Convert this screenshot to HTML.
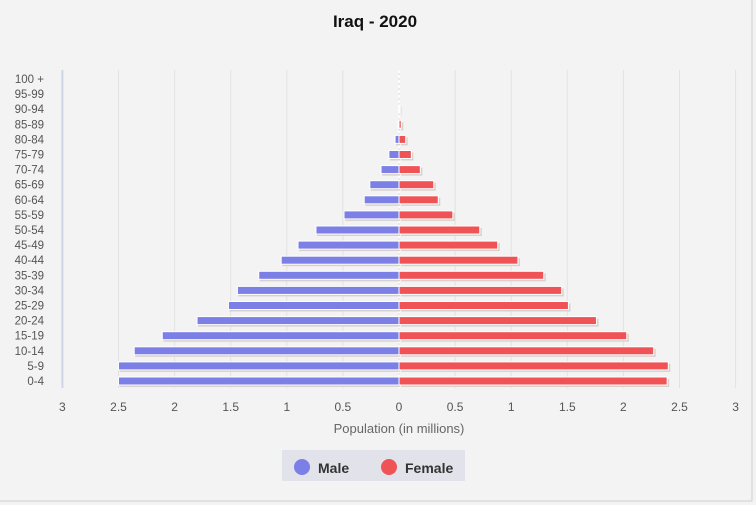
<!DOCTYPE html>
<html><head><meta charset="utf-8"><style>
html,body{margin:0;padding:0;background:#f4f4f4;}
svg{display:block;font-family:"Liberation Sans",sans-serif;}
</style></head><body>
<svg id="chart" width="756" height="505" viewBox="0 0 756 505">
<rect x="0" y="0" width="756" height="505" fill="#f3f3f3"/>
<line x1="752" y1="0" x2="752" y2="501" stroke="#cfcfcf"/>
<line x1="0" y1="501" x2="752" y2="501" stroke="#cfcfcf"/>
<text x="375" y="27" text-anchor="middle" font-size="17" font-weight="bold" fill="#111">Iraq - 2020</text>
<g id="grid"></g>
<g id="bars"></g>
<g id="ylabels"></g>
<g id="xlabels"></g>
<text x="399" y="433" text-anchor="middle" font-size="13" fill="#666">Population (in millions)</text>
<g>
<rect x="282" y="450" width="183" height="31" fill="#e2e2ea"/>
<g>
<circle cx="302" cy="467" r="8" fill="#7b7fe6"/>
<text x="318" y="473" font-size="14" font-weight="bold" fill="#333">Male</text>
</g>
<g>
<circle cx="389" cy="467" r="8" fill="#f05356"/>
<text x="405" y="473" font-size="14" font-weight="bold" fill="#333">Female</text>
</g>
</g>
</svg>
<script>
const categories = ["0-4","5-9","10-14","15-19","20-24","25-29","30-34","35-39","40-44","45-49","50-54","55-59","60-64","65-69","70-74","75-79","80-84","85-89","90-94","95-99","100 +"];
const maleValues = [2.50,2.50,2.36,2.11,1.80,1.52,1.44,1.25,1.05,0.90,0.74,0.49,0.31,0.26,0.16,0.09,0.035,0.008,0.002,0,0];
const femaleValues = [2.39,2.40,2.27,2.03,1.76,1.51,1.45,1.29,1.06,0.88,0.72,0.48,0.35,0.31,0.19,0.11,0.06,0.02,0.004,0,0];
const xTicks = [-3,-2.5,-2,-1.5,-1,-0.5,0,0.5,1,1.5,2,2.5,3];
const xTickLabels = ["3","2.5","2","1.5","1","0.5","0","0.5","1","1.5","2","2.5","3"];

const NS="http://www.w3.org/2000/svg";
const cx=399, unit=112.2;
function xScale(v){return cx+v*unit;}
function yScale(i){return 381-i*15.1;}
function mk(tag,attrs,parent){const e=document.createElementNS(NS,tag);for(const k in attrs)e.setAttribute(k,attrs[k]);parent.appendChild(e);return e;}
const grid=document.getElementById('grid'),bars=document.getElementById('bars'),yl=document.getElementById('ylabels'),xl=document.getElementById('xlabels');
xTicks.forEach((t,i)=>{
  const g=mk('line',{x1:xScale(t),x2:xScale(t),y1:70,y2:388,stroke:i===0?'#cdd6e6':'#e2e2e2','stroke-width':i===0?2:1},grid);
  
  
  const tx=mk('text',{x:xScale(t),y:411,'text-anchor':'middle','font-size':12,fill:'#555'},xl);
  tx.textContent=xTickLabels[i];
  
  
});
const zl=mk('line',{x1:cx,x2:cx,y1:70,y2:388,stroke:'#fff','stroke-width':1.5,'stroke-dasharray':'3,2'},grid);


categories.forEach((c,i)=>{
  const y=yScale(i);
  const lab=mk('text',{x:44,y:y+4,'text-anchor':'end','font-size':11.5,fill:'#555'},yl);
  lab.textContent=c;
  
  
  const mw=maleValues[i]*unit, fw=femaleValues[i]*unit;
  if(mw>0){
    const sh=mk('rect',{x:xScale(-maleValues[i])+1,y:y-2,width:mw,height:8,fill:'#d8d0cc'},bars);
    
    
    const b=mk('rect',{x:xScale(-maleValues[i]),y:y-4,width:mw,height:8,fill:'#7b7fe6',stroke:'#fff','stroke-width':1},bars);
    
    
  }
  if(fw>0){
    const sh=mk('rect',{x:cx+2,y:y-2,width:fw,height:8,fill:'#d8d0cc'},bars);
    
    
    const b=mk('rect',{x:cx,y:y-4,width:fw,height:8,fill:'#f05356',stroke:'#fff','stroke-width':1},bars);
    
    
  }
});
</script>
</body></html>
